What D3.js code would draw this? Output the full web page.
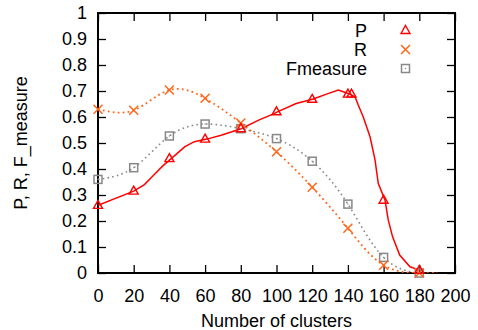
<!DOCTYPE html>
<html>
<head>
<meta charset="utf-8">
<script src="https://cdn.jsdelivr.net/npm/d3@7"></script>
<style>
  body { margin: 0; background: #fff; }
  text { font-family: "Liberation Sans", Arial, sans-serif; fill: #000; }
</style>
</head>
<body>
<div id="chart"></div>
<script>
// marker positions (every 20 clusters)
var markerX = [0, 20, 40, 60, 80, 100, 120, 140, 160, 180];
var precisionMarks = [0.26, 0.315, 0.44, 0.515, 0.555, 0.62, 0.668, 0.688, 0.28, 0.01];
var recallMarks = [0.63, 0.626, 0.704, 0.672, 0.577, 0.466, 0.33, 0.172, 0.03, 0.0];
var fmeasureMarks = [0.36, 0.405, 0.527, 0.573, 0.555, 0.517, 0.43, 0.265, 0.06, 0.0];
var extraPrecisionMark = [142, 0.688];

// precision curve
var precisionLineX = [0, 20, 26, 31, 36, 41, 48.7, 54, 61, 69, 75, 80.5, 90, 99, 100.5, 111, 120.6, 128, 134.6, 137.4, 141, 144, 145.8, 148.6, 152.4, 155.2, 157, 160.8, 162.6, 165, 169, 174.8, 180.4];
var precisionLineY = [0.26, 0.315, 0.34, 0.375, 0.41, 0.44, 0.486, 0.505, 0.515, 0.53, 0.543, 0.556, 0.588, 0.614, 0.62, 0.652, 0.669, 0.688, 0.704, 0.697, 0.688, 0.678, 0.646, 0.60, 0.524, 0.435, 0.345, 0.28, 0.204, 0.14, 0.069, 0.024, 0.01];

// tails of the smoothed recall / F-measure lines run a bit past the last marker
var tailX = 190;
var tailY = 0;

var xTicks = [0, 20, 40, 60, 80, 100, 120, 140, 160, 180, 200];
var yTicks = [0, 0.1, 0.2, 0.3, 0.4, 0.5, 0.6, 0.7, 0.8, 0.9, 1];

var margin = {top: 13, right: 23, bottom: 57, left: 98};
var width = 478 - margin.left - margin.right,
    height = 330 - margin.top - margin.bottom;

var red = "#ff0000", orange = "#ff6619", gray = "#888888";
var fontSize = "18px";

var x = d3.scaleLinear().domain([0, 200]).range([0, width]);
var y = d3.scaleLinear().domain([0, 1]).range([height, 0]);

var svg = d3.select("#chart").append("svg")
    .attr("width", 478)
    .attr("height", 330)
  .append("g")
    .attr("transform", "translate(" + margin.left + "," + margin.top + ")");

svg.append("defs").append("clipPath")
    .attr("id", "plot-clip")
  .append("rect")
    .attr("width", width)
    .attr("height", height);

// axes with inward ticks on all four sides
function styleAxis(g) {
    g.select(".domain").remove();
    g.selectAll(".tick line").attr("stroke", "#000").attr("stroke-width", 1.3);
    g.selectAll(".tick text").style("font-size", fontSize).attr("fill", "#000");
}

svg.append("g")
    .attr("transform", "translate(0," + height + ")")
    .call(d3.axisBottom(x).tickValues(xTicks).tickSize(-8).tickPadding(16).tickFormat(d3.format("d")))
    .call(styleAxis);

svg.append("g")
    .call(d3.axisTop(x).tickValues(xTicks).tickSize(-8).tickFormat(""))
    .call(styleAxis);

svg.append("g")
    .call(d3.axisLeft(y).tickValues(yTicks).tickSize(-8).tickPadding(11).tickFormat(d3.format("")))
    .call(styleAxis);

svg.append("g")
    .attr("transform", "translate(" + width + ",0)")
    .call(d3.axisRight(y).tickValues(yTicks).tickSize(-8).tickFormat(""))
    .call(styleAxis);

svg.append("rect")
    .attr("width", width)
    .attr("height", height)
    .attr("fill", "none")
    .attr("stroke", "#000")
    .attr("stroke-width", 2);

// axis titles
svg.append("text")
    .attr("x", width / 2)
    .attr("y", height + 54)
    .attr("text-anchor", "middle")
    .style("font-size", fontSize)
    .text("Number of clusters");

svg.append("text")
    .attr("transform", "translate(" + (27 - margin.left) + "," + (height / 2) + ") rotate(-90)")
    .attr("text-anchor", "middle")
    .style("font-size", fontSize)
    .text("P, R, F_measure");

var plot = svg.append("g").attr("clip-path", "url(#plot-clip)");

function pairs(xs, ys) {
    return xs.map(function(d, i) { return [d, ys[i]]; });
}

var smooth = d3.line()
    .curve(d3.curveNatural)
    .x(function(d) { return x(d[0]); })
    .y(function(d) { return y(d[1]); });

var straight = d3.line()
    .x(function(d) { return x(d[0]); })
    .y(function(d) { return y(d[1]); });

plot.append("path")
    .datum(pairs(markerX, fmeasureMarks).concat([[tailX, tailY]]))
    .attr("fill", "none")
    .attr("stroke", gray)
    .attr("stroke-width", 1.6)
    .attr("stroke-dasharray", "1.6,3.2")
    .attr("d", smooth);

plot.append("path")
    .datum(pairs(markerX, recallMarks).concat([[tailX, tailY]]))
    .attr("fill", "none")
    .attr("stroke", orange)
    .attr("stroke-width", 1.8)
    .attr("stroke-dasharray", "1.8,3.2")
    .attr("d", smooth);

plot.append("path")
    .datum(pairs(precisionLineX, precisionLineY))
    .attr("fill", "none")
    .attr("stroke", red)
    .attr("stroke-width", 1.5)
    .attr("d", straight);

// marker symbols
function triangle(g, cx, cy) {
    g.append("path")
        .attr("d", "M" + cx + "," + (cy - 5) + "L" + (cx + 4.5) + "," + (cy + 3) + "L" + (cx - 4.5) + "," + (cy + 3) + "Z")
        .attr("fill", "none")
        .attr("stroke", red)
        .attr("stroke-width", 1.4);
}

function cross(g, cx, cy) {
    g.append("path")
        .attr("d", "M" + (cx - 4.5) + "," + (cy - 4.5) + "L" + (cx + 4.5) + "," + (cy + 4.5) +
                   "M" + (cx + 4.5) + "," + (cy - 4.5) + "L" + (cx - 4.5) + "," + (cy + 4.5))
        .attr("fill", "none")
        .attr("stroke", orange)
        .attr("stroke-width", 1.5);
}

function square(g, cx, cy) {
    g.append("rect")
        .attr("x", cx - 4)
        .attr("y", cy - 4)
        .attr("width", 8)
        .attr("height", 8)
        .attr("fill", "none")
        .attr("stroke", gray)
        .attr("stroke-width", 1.5);
    g.append("rect")
        .attr("x", cx - 0.6)
        .attr("y", cy - 0.6)
        .attr("width", 1.2)
        .attr("height", 1.2)
        .attr("fill", gray);
}

var marks = svg.append("g");
markerX.forEach(function(d, i) {
    square(marks, x(d), y(fmeasureMarks[i]));
    cross(marks, x(d), y(recallMarks[i]));
    triangle(marks, x(d), y(precisionMarks[i]));
});
triangle(marks, x(extraPrecisionMark[0]), y(extraPrecisionMark[1]));

// legend: right-aligned labels with point samples
var legend = [
    {label: "P", draw: triangle},
    {label: "R", draw: cross},
    {label: "Fmeasure", draw: square}
];
var legendG = svg.append("g");
legend.forEach(function(d, i) {
    var ly = 17.5 + i * 19;
    legendG.append("text")
        .attr("x", 269)
        .attr("y", ly + 6.5)
        .attr("text-anchor", "end")
        .style("font-size", fontSize)
        .text(d.label);
    d.draw(legendG, 307.5, ly);
});
</script>
</body>
</html>
